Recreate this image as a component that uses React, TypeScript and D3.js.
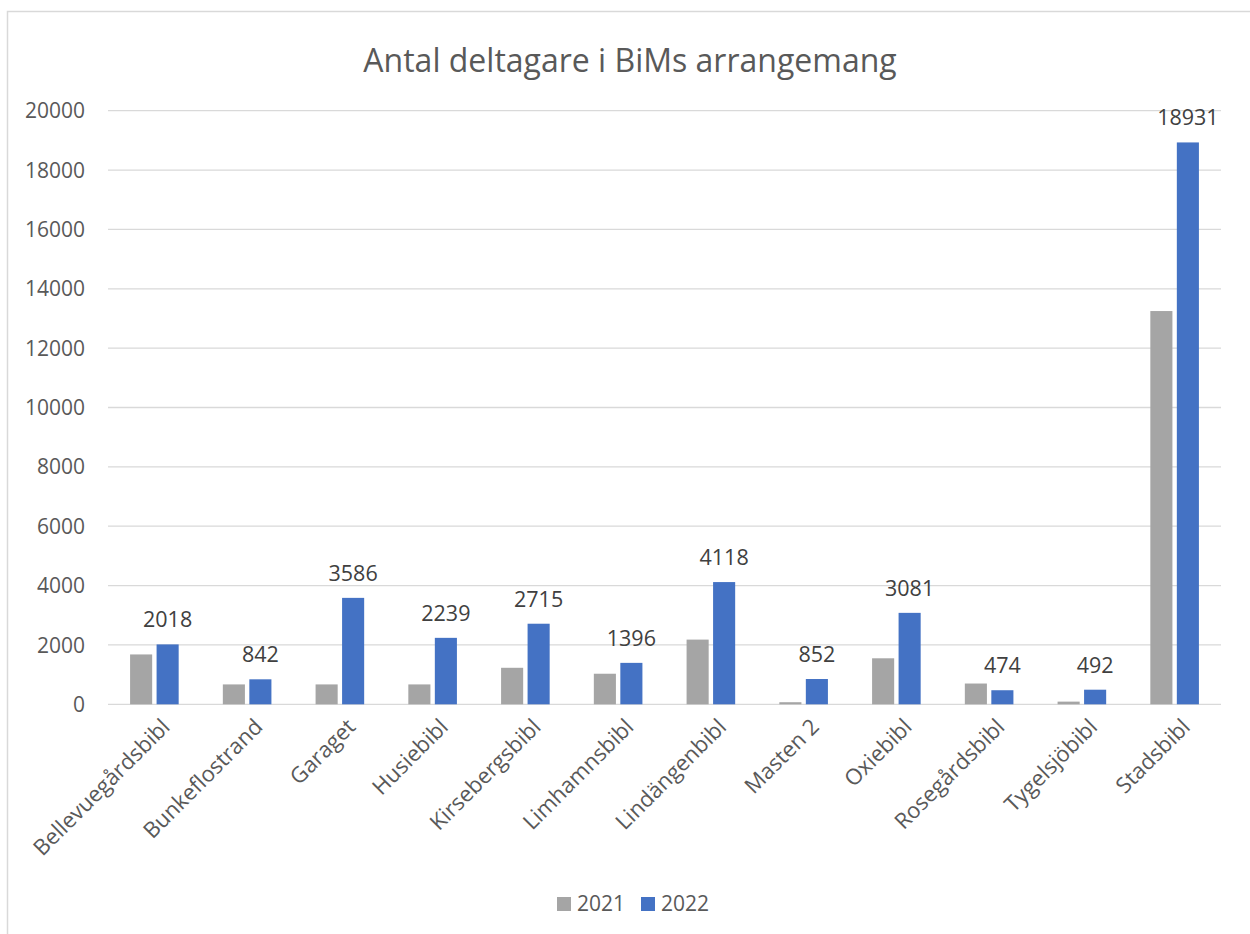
import React, { useRef, useEffect } from "react";
import * as d3 from "d3";

const categories = [
  "Bellevuegårdsbibl",
  "Bunkeflostrand",
  "Garaget",
  "Husiebibl",
  "Kirsebergsbibl",
  "Limhamnsbibl",
  "Lindängenbibl",
  "Masten 2",
  "Oxiebibl",
  "Rosegårdsbibl",
  "Tygelsjöbibl",
  "Stadsbibl",
];
const values2021 = [1680, 670, 670, 670, 1230, 1030, 2180, 70, 1550, 700, 90, 13250];
const values2022 = [2018, 842, 3586, 2239, 2715, 1396, 4118, 852, 3081, 474, 492, 18931];
const seriesNames = ["2021", "2022"];
const seriesColors = ["#a5a5a5", "#4472c4"];
const yTicks = [0, 2000, 4000, 6000, 8000, 10000, 12000, 14000, 16000, 18000, 20000];

const FONT = "'Open Sans', 'DejaVu Sans', sans-serif";

const App = () => {
  const ref = useRef<SVGSVGElement>(null);

  useEffect(() => {
    const width = 1250;
    const height = 934;
    const left = 108;
    const right = 1221;
    const top = 110.7;
    const bottom = 704.3;

    const svg = d3.select(ref.current);
    svg.selectAll("*").remove();

    svg
      .append("rect")
      .attr("x", 7.5)
      .attr("y", 11.5)
      .attr("width", 1260)
      .attr("height", 940)
      .attr("fill", "#fff")
      .attr("stroke", "#d9d9d9")
      .attr("stroke-width", 1.5);

    svg
      .append("text")
      .attr("x", 630)
      .attr("y", 72)
      .attr("text-anchor", "middle")
      .style("font-family", FONT)
      .style("font-size", "32px")
      .attr("fill", "#595959")
      .text("Antal deltagare i BiMs arrangemang");

    const x = d3.scaleBand().domain(categories).range([left, right]).padding(0);
    const w = x.bandwidth() / 4.2;
    const x1 = d3
      .scaleBand()
      .domain(seriesNames)
      .range([0, 2.2 * w])
      .paddingInner(1 / 6);
    const y = d3.scaleLinear().domain([0, 20000]).range([bottom, top]);

    // gridlines + y labels
    svg
      .append("g")
      .selectAll("line")
      .data(yTicks)
      .enter()
      .append("line")
      .attr("x1", left)
      .attr("x2", right)
      .attr("y1", (d) => y(d))
      .attr("y2", (d) => y(d))
      .attr("stroke", "#d9d9d9")
      .attr("stroke-width", 1.3);

    svg
      .append("g")
      .selectAll("text")
      .data(yTicks)
      .enter()
      .append("text")
      .attr("x", 85)
      .attr("y", (d) => y(d))
      .attr("dy", "0.36em")
      .attr("text-anchor", "end")
      .style("font-family", FONT)
      .style("font-size", "21px")
      .attr("fill", "#595959")
      .text((d) => String(d));

    const series = [values2021, values2022];
    series.forEach((vals, si) => {
      const g = svg.append("g");
      g.selectAll("rect")
        .data(vals)
        .enter()
        .append("rect")
        .attr("x", (d, i) => x(categories[i])! + x.bandwidth() / 2 - 1.1 * w + x1(seriesNames[si])!)
        .attr("y", (d) => y(d))
        .attr("width", x1.bandwidth())
        .attr("height", (d) => bottom - y(d))
        .attr("fill", seriesColors[si]);
    });

    // data labels for 2022
    svg
      .append("g")
      .selectAll("text")
      .data(values2022)
      .enter()
      .append("text")
      .attr("x", (d, i) => x(categories[i])! + x.bandwidth() / 2 - 1.1 * w + x1("2022")! + x1.bandwidth() / 2)
      .attr("y", (d) => y(d) - 17)
      .attr("text-anchor", "middle")
      .style("font-family", FONT)
      .style("font-size", "21.5px")
      .attr("fill", "#404040")
      .text((d) => String(d));

    // x labels
    svg
      .append("g")
      .selectAll("text")
      .data(categories)
      .enter()
      .append("text")
      .attr("transform", (d) => `translate(${x(d)! + x.bandwidth() / 2 + 6}, ${bottom + 13}) rotate(-45)`)
      .attr("text-anchor", "end")
      .attr("dy", "0.7em")
      .style("font-family", FONT)
      .style("font-size", "22px")
      .attr("fill", "#595959")
      .text((d) => d);

    // legend
    const legendX = [557, 641];
    seriesNames.forEach((name, i) => {
      svg
        .append("rect")
        .attr("x", legendX[i])
        .attr("y", 897)
        .attr("width", 14)
        .attr("height", 14)
        .attr("fill", seriesColors[i]);
      svg
        .append("text")
        .attr("x", legendX[i] + 20)
        .attr("y", 911)
        .style("font-family", FONT)
        .style("font-size", "21px")
        .attr("fill", "#595959")
        .text(name);
    });

    svg.attr("width", width).attr("height", height);
  }, []);

  return (
    <svg
      ref={ref}
      width={1250}
      height={934}
      style={{ position: "absolute", left: 0, top: 0, display: "block" }}
    ></svg>
  );
};

export default App;
